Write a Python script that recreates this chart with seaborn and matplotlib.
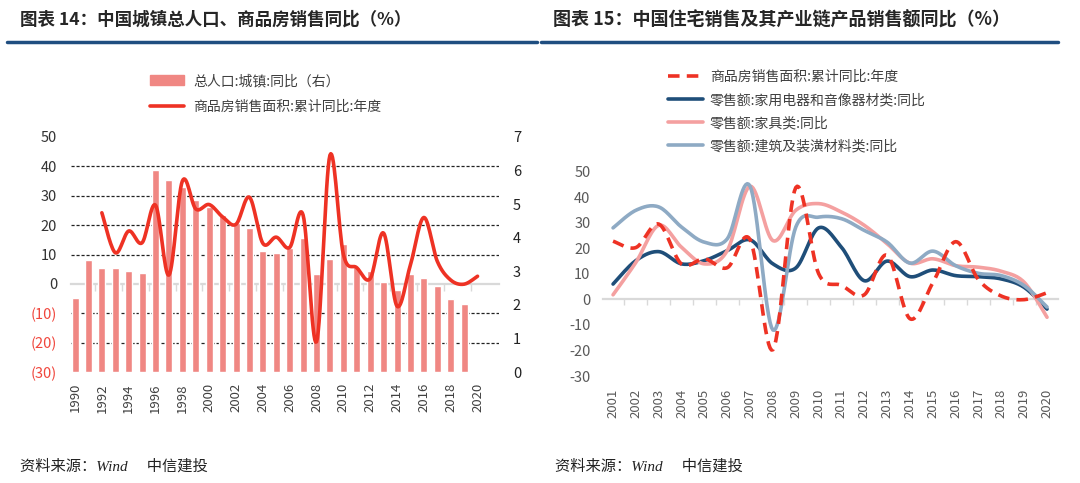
#!/usr/bin/env python3
import numpy as np
import matplotlib
matplotlib.use('Agg')
import matplotlib.pyplot as plt
import seaborn as sns
from matplotlib.lines import Line2D
from matplotlib.patches import Patch
from matplotlib.ticker import FixedLocator

# ---- data ----
bar_years = list(range(1990, 2020))
urban_pop = [2.19, 3.33, 3.09, 3.09, 3.00, 2.94, 6.03, 5.73, 5.52, 5.12,
             4.91, 4.67, 4.43, 4.30, 3.60, 3.55, 3.69, 4.00, 2.91, 3.36,
             3.80, 3.12, 3.02, 2.69, 2.44, 2.91, 2.81, 2.57, 2.16, 2.04]

sales_years = list(range(1992, 2021))
sales_area = [24.2, 10.6, 18.0, 14.0, 26.8, 3.0, 35.0, 25.5, 27.0, 22.8,
              20.3, 29.5, 13.8, 15.9, 12.4, 23.4, -19.7, 43.8, 10.1, 5.5,
              1.8, 17.3, -7.6, 6.5, 22.6, 7.7, 1.3, -0.1, 2.6]

r_years = list(range(2001, 2021))
appliance = [6.0, 15.2, 18.7, 13.9, 15.2, 19.1, 23.3, 13.9, 12.3, 28.0,
             20.4, 7.3, 15.0, 8.9, 11.5, 9.3, 8.9, 8.0, 4.7, -3.8]
furniture = [1.8, 14.5, 29.0, 20.4, 13.9, 19.1, 44.3, 23.0, 34.9, 37.5,
             34.2, 29.0, 21.8, 14.2, 15.9, 13.2, 12.6, 11.0, 6.7, -7.0]
building = [28.0, 34.9, 36.2, 28.3, 22.4, 23.7, 44.3, -12.0, 28.3, 32.2,
            31.6, 27.0, 22.4, 14.2, 18.9, 13.2, 10.2, 9.3, 5.4, -3.0]

left_ticks = [-30, -20, -10, 0, 10, 20, 30, 40, 50]
right_ticks = [0, 1, 2, 3, 4, 5, 6, 7]

RED = '#EE3224'
BAR = '#F08783'
NAVY = '#1F4E79'
PINK = '#F4A0A0'
GREYBLUE = '#8EAAC4'
RULE = '#1F4E80'


def smooth(xs, ys, n=16):
    # Excel-style smoothed line (Catmull-Rom), drawing only
    x = np.asarray(xs, float)
    y = np.asarray(ys, float)
    px = np.r_[x[0], x, x[-1]]
    py = np.r_[y[0], y, y[-1]]
    outx, outy = [], []
    t = np.linspace(0, 1, n, endpoint=False)
    for i in range(1, len(px) - 2):
        for arr, out in ((px, outx), (py, outy)):
            p0, p1, p2, p3 = arr[i - 1], arr[i], arr[i + 1], arr[i + 2]
            out.extend(0.5 * (2 * p1 + (-p0 + p2) * t
                              + (2 * p0 - 5 * p1 + 4 * p2 - p3) * t ** 2
                              + (-p0 + 3 * p1 - 3 * p2 + p3) * t ** 3))
    outx.append(x[-1])
    outy.append(y[-1])
    return np.array(outx), np.array(outy)


sns.set_style('white')
plt.rcParams['font.family'] = ['Noto Sans CJK SC', 'DejaVu Sans']
plt.rcParams['axes.unicode_minus'] = False

fig = plt.figure(figsize=(10.8, 4.83), dpi=100)

# ---------------- left chart ----------------
ax1 = fig.add_axes([71 / 1080, 1 - 372 / 483, 428 / 1080, 235 / 483])
sns.barplot(x=bar_years, y=urban_pop, native_scale=True, width=0.52,
            color=BAR, saturation=1, ax=ax1, zorder=2)
ax1l = ax1.twinx()

ax1.set_ylim(0, 7)
ax1.set_xlim(1989.7, 2021.6)
ax1.yaxis.tick_right()
ax1.set_yticks(right_ticks)
ax1.tick_params(axis='y', length=0, pad=10, labelsize=10.5, labelcolor='#222222')
# grid follows the left scale
grid_pos = [(v + 30) * 7 / 80 for v in left_ticks if v != 0]
ax1.yaxis.set_minor_locator(FixedLocator(grid_pos))
ax1.tick_params(axis='y', which='minor', length=0)
ax1.grid(axis='y', which='minor', color='#222222', lw=0.9, ls=(0, (2.5, 1.5)))
ax1.grid(axis='y', which='major', visible=False)
ax1.grid(axis='x', visible=False)
ax1.set_axisbelow(True)
ax1.set_xticks(list(range(1990, 2021, 2)))
ax1.set_xticklabels([str(y) for y in range(1990, 2021, 2)], rotation=90)
ax1.tick_params(axis='x', length=0, pad=8, labelsize=9.5, labelcolor='#404040')
for s in ax1.spines.values():
    s.set_visible(False)

sx, sy = smooth(sales_years, sales_area)
sns.lineplot(x=sx, y=sy, sort=False, estimator=None, color=RED, lw=2.6, ax=ax1l)
ax1l.set_ylim(-30, 50)
ax1l.yaxis.tick_left()
ax1l.set_yticks(left_ticks)
ax1l.set_yticklabels([f'({-v})' if v < 0 else str(v) for v in left_ticks])
ax1l.tick_params(axis='y', length=0, pad=10, labelsize=10.5)
ax1l.grid(False)
for lab, v in zip(ax1l.get_yticklabels(), left_ticks):
    lab.set_color('#F0463C' if v < 0 else '#333333')
for s in ax1l.spines.values():
    s.set_visible(False)

zero1 = ax1.secondary_xaxis(30 / 80)
zero1.spines['bottom'].set_color('#D9D9D9')
zero1.spines['bottom'].set_linewidth(1.6)
zero1.set_xticks([1989.5 + 2 * k for k in range(16)])
zero1.tick_params(axis='x', length=5, width=1, color='#D9D9D9', labelbottom=False)

ax1.legend(handles=[Patch(color=BAR), Line2D([], [], color=RED, lw=2.6)],
           labels=['总人口:城镇:同比（右）', '商品房销售面积:累计同比:年度'],
           loc='upper left', bbox_to_anchor=(150 / 1080, 1 - 74 / 483),
           bbox_transform=fig.transFigure, frameon=False, fontsize=10,
           handlelength=2.45, handleheight=0.75, handletextpad=0.65,
           labelspacing=0.85, borderpad=0, borderaxespad=0, labelcolor='#404040')

# ---------------- right chart ----------------
ax2 = fig.add_axes([603 / 1080, 1 - 376 / 483, 455 / 1080, 204.3 / 483])
r_sales = sales_area[sales_years.index(2001):]
series = [
    (r_years, r_sales, RED, (0, (3.2, 2.0))),
    (r_years, appliance, NAVY, '-'),
    (r_years, furniture, PINK, '-'),
    (r_years, building, GREYBLUE, '-'),
]
for xs, ys, c, ls in series[1:]:
    qx, qy = smooth(xs, ys)
    sns.lineplot(x=qx, y=qy, sort=False, estimator=None, color=c, lw=2.6, ax=ax2)
qx, qy = smooth(r_years, r_sales)
sns.lineplot(x=qx, y=qy, sort=False, estimator=None, color=RED, lw=2.6,
             linestyle=series[0][3], ax=ax2)

ax2.set_ylim(-30, 50)
ax2.set_xlim(2001 - 0.44, 2020 + 0.48)
ax2.set_yticks(left_ticks)
ax2.yaxis.set_minor_locator(FixedLocator([v for v in left_ticks if v != 0]))
ax2.grid(axis='y', which='minor', color='#222222', lw=0.9, ls=(0, (2.5, 1.5)))
ax2.grid(axis='y', which='major', visible=False)
ax2.grid(axis='x', visible=False)
ax2.tick_params(axis='y', which='both', length=0, pad=9, labelsize=10.5,
                labelcolor='#595959')
ax2.set_xticks(r_years)
ax2.set_xticklabels([str(y) for y in r_years], rotation=90)
ax2.tick_params(axis='x', length=0, pad=9, labelsize=9.5, labelcolor='#595959')
for s in ax2.spines.values():
    s.set_visible(False)

zero2 = ax2.secondary_xaxis(30 / 80)
zero2.spines['bottom'].set_color('#D9D9D9')
zero2.spines['bottom'].set_linewidth(1.6)
zero2.set_xticks([y - 0.5 for y in r_years] + [2020.5])
zero2.tick_params(axis='x', length=4, width=1, color='#D9D9D9', labelbottom=False)

ax2.legend(handles=[Line2D([], [], color=c, lw=2.6, ls=ls) for _, _, c, ls in series],
           labels=['商品房销售面积:累计同比:年度', '零售额:家用电器和音像器材类:同比',
                   '零售额:家具类:同比', '零售额:建筑及装潢材料类:同比'],
           loc='upper left', bbox_to_anchor=(668 / 1080, 1 - 70 / 483),
           bbox_transform=fig.transFigure, frameon=False, fontsize=10,
           handlelength=2.5, handletextpad=0.5, labelspacing=0.65,
           borderpad=0, borderaxespad=0, labelcolor='#404040')

# ---------------- titles, rules, sources ----------------
fig.text(20 / 1080, 1 - 20 / 483, '图表 14：中国城镇总人口、商品房销售同比（%）',
         fontsize=12.6, fontweight='bold', va='center', ha='left')
fig.text(553 / 1080, 1 - 20 / 483, '图表 15：中国住宅销售及其产业链产品销售额同比（%）',
         fontsize=13, fontweight='bold', va='center', ha='left')
fig.add_artist(Line2D([7 / 1080, 537 / 1080], [1 - 41.5 / 483] * 2, color=RULE, lw=2.5))
fig.add_artist(Line2D([541 / 1080, 1058 / 1080], [1 - 41.5 / 483] * 2, color=RULE, lw=2.5))
src_font = ['Liberation Serif', 'Noto Sans CJK SC']
fig.text(20 / 1080, 1 - 466 / 483, '资料来源：Wind　 中信建投', fontsize=11,
         style='italic', family=src_font, va='center', ha='left', color='#222222')
fig.text(555 / 1080, 1 - 466 / 483, '资料来源：Wind　 中信建投', fontsize=11,
         style='italic', family=src_font, va='center', ha='left', color='#222222')

fig.savefig('out.png', dpi=100)
